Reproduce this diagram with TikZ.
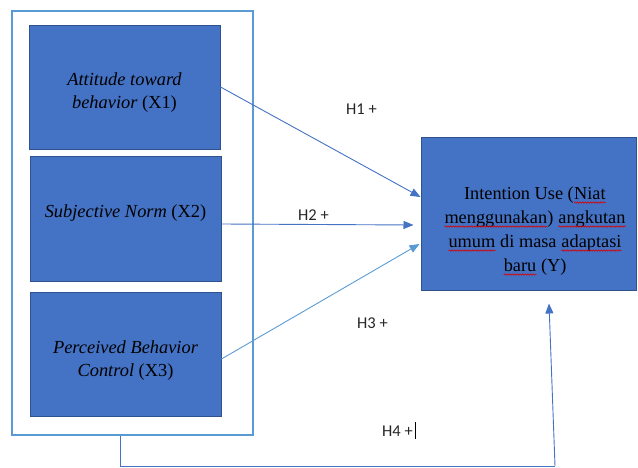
\documentclass[tikz,border=0pt]{standalone}
\usepackage{fontspec}
\setmainfont{Liberation Serif}
\newfontfamily\calibri{Carlito}
\usetikzlibrary{arrows.meta,decorations.pathmorphing}
\definecolor{boxfill}{HTML}{4472C4}
\definecolor{boxedge}{HTML}{2F528F}
\definecolor{lightblue}{HTML}{5B9BD5}
\definecolor{midblue}{HTML}{4472C4}
\newcommand\redwave[1]{\tikz[baseline=(w.base)]{\node[inner sep=0pt, outer sep=0pt] (w) {#1};
  \draw[red!85!black, line width=0.6pt, decorate, decoration={snake,amplitude=0.7pt,segment length=2.6pt}] ([yshift=-3.4pt]w.base west) -- ([yshift=-3.4pt]w.base east);}}
\tikzset{
  varbox/.style={draw=boxedge, line width=1pt, fill=boxfill, minimum width=191pt, minimum height=124pt, inner sep=0pt},
  boxtext/.style={font=\fontsize{18.4}{23}\selectfont, align=center, text=black, inner sep=0pt},
  hlabel/.style={font=\calibri\fontsize{16.5}{19}\selectfont, text=black!85, inner sep=0pt, anchor=base west},
  link/.style={draw=midblue, line width=0.9pt, -{Triangle[length=10pt,width=8pt]}},
  linklight/.style={draw=lightblue, line width=0.9pt, -{Triangle[length=10pt,width=8pt]}}
}
\begin{document}
\begin{tikzpicture}[x=1pt,y=-1pt]
\useasboundingbox (0,0) rectangle (638,468);
% outer frame
\node[draw=lightblue, line width=1.2pt, minimum width=241pt, minimum height=424pt, inner sep=0pt] (outer) at (132.5,223) {};
% variable boxes
\node[varbox] (x1) at (124.5,88) {};
\node[varbox] (x2) at (125.5,219) {};
\node[varbox] (x3) at (125.5,354) {};
\node[varbox, minimum width=215pt, minimum height=152pt] (y) at (528.5,214) {};
% box texts
\node[boxtext] (t1) at (124.5,93) {\itshape Attitude toward\\ \itshape behavior \upshape(X1)};
\node[boxtext] (t2) at (125.5,213) {\itshape Subjective Norm \upshape(X2)};
\node[boxtext] (t3) at (125.5,361) {\itshape Perceived Behavior\\ \itshape Control \upshape(X3)};
\node[boxtext, font=\fontsize{18.3}{24}\selectfont] (ty) at (535,231) {Intention Use (\redwave{Niat}\\ \redwave{menggunakan}) \redwave{angkutan}\\ \redwave{umum} di masa \redwave{adaptasi}\\ \redwave{baru} (Y)};
% hypothesis labels
\node[hlabel] (h1) at (346,115) {H1 +};
\node[hlabel] (h2) at (298,221) {H2 +};
\node[hlabel] (h3) at (357,328) {H3 +};
\node[hlabel] (h4) at (382,436) {H4 +};
\draw[black, line width=0.8pt] ([xshift=2pt]h4.east |- 0,422) -- ([xshift=2pt]h4.east |- 0,439);
% arrows
\draw[link] ([yshift=1pt]x1.east) -- ([yshift=17pt]y.west);
\draw[link] ([yshift=-5pt]x2.east) -- ([xshift=-7pt,yshift=-11pt]y.west);
\draw[linklight] ([yshift=-5pt]x3.east) -- ([xshift=-1pt,yshift=-30pt]y.west);
% H4 path
\coordinate (c1) at (120,466);
\coordinate (c2) at (555,466);
\draw[midblue, line width=0.9pt] ([xshift=-12.5pt]outer.south) -- (c1) -- (c2);
\draw[link] (c2) -- ([xshift=20.5pt,yshift=-13pt]y.south);
\end{tikzpicture}
\end{document}
